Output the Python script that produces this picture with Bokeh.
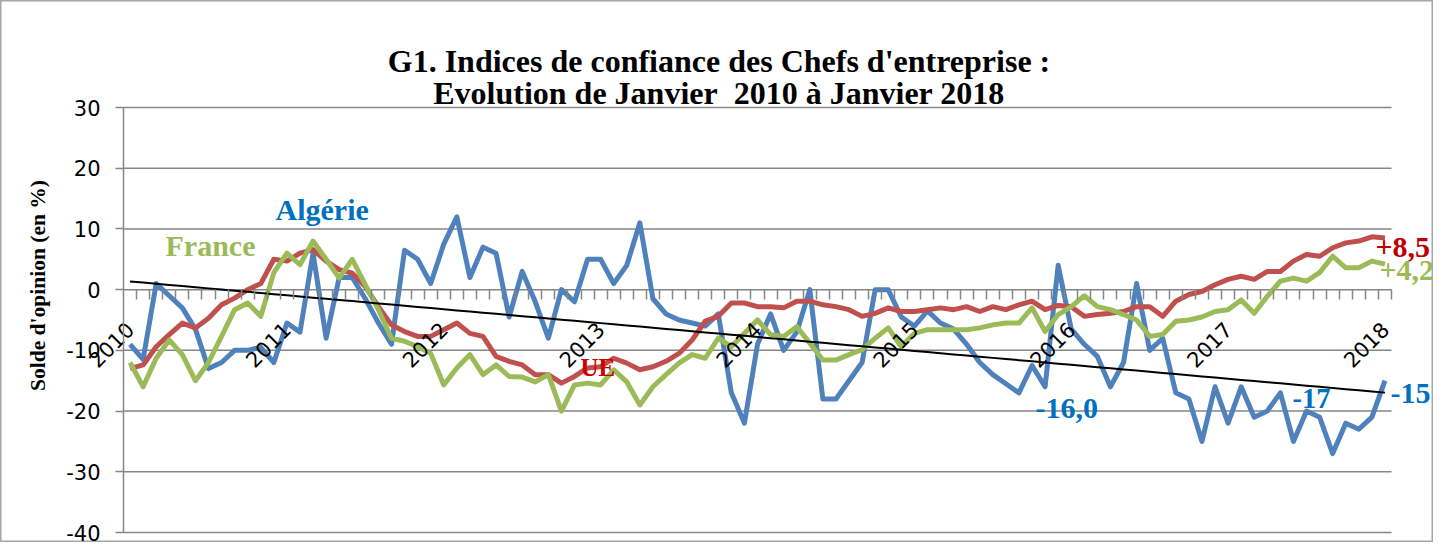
import numpy as np
from bokeh.plotting import figure
from bokeh.models import (Range1d, FixedTicker, Label, LinearAxis,
                          PrintfTickFormatter)
from bokeh.embed import file_html
from bokeh.resources import INLINE

# ---------------- data (monthly, Jan 2010 .. Jan 2018) ----------------
years = ["2010", "2011", "2012", "2013", "2014", "2015", "2016", "2017", "2018"]

algerie = [-9, -11.5, 1, -1, -3, -6.5, -13, -12, -10, -10, -9.5, -12,
           -5.5, -7, 6, -8, 2, 2, -1.5, -5.5, -9, 6.5, 5, 1,
           7.5, 12, 2, 7, 6, -4.5, 3, -2, -8, 0, -2, 5,
           5, 1, 4, 11, -1.5, -4, -5, -5.5, -6, -4, -17, -22,
           -9, -4, -10, -7, 0, -18, -18, -15, -12, 0, 0, -4.5,
           -6, -3.5, -5.5, -6.5, -9, -12, -14, -15.5, -17, -12.5, -16, 4,
           -6.5, -9, -11, -16, -12, 1, -10, -8, -17, -18, -25, -16,
           -22, -16, -21, -20, -17, -25, -20, -21, -27, -22, -23, -21,
           -15]

ue = [-13, -12.4, -9.4, -7.4, -5.5, -6.3, -4.7, -2.5, -1.4, 0, 1, 5,
      4.7, 6, 6.6, 4.7, 3.3, 2.7, 0.5, -2.8, -5.8, -6.9, -7.7, -7.7,
      -6.6, -5.5, -7.2, -7.7, -11, -11.8, -12.4, -14, -14, -15.4, -14.3, -12.9,
      -12.7, -11.3, -12.1, -13.2, -12.7, -11.8, -10.5, -8.3, -5.2, -4.4, -2.2, -2.2,
      -2.8, -2.8, -3, -1.9, -1.9, -2.5, -2.8, -3.3, -4.4, -3.9, -3, -3.6,
      -3.6, -3.3, -3, -3.3, -2.8, -3.6, -2.8, -3.3, -2.5, -1.9, -3.3, -2.6,
      -2.8, -4.4, -4.1, -3.9, -3.6, -2.8, -2.8, -4.4, -1.9, -0.8, -0.3, 0.8,
      1.7, 2.2, 1.7, 3.0, 3.0, 4.7, 5.8, 5.5, 6.9, 7.7, 8.0, 8.7,
      8.5]

france = [-12, -16, -11.3, -8.3, -10.7, -15, -12, -7.7, -3.3, -2.2, -4.4, 2.8,
          6, 4.1, 8, 5, 1.9, 5, 0.8, -3.3, -8, -8.5, -9.4, -10.5,
          -15.7, -12.9, -10.7, -14, -12.4, -14.3, -14.4, -15.2, -14, -20, -15.7, -15.4,
          -15.7, -13.2, -15.2, -19, -16, -14, -12.1, -10.7, -11.3, -8, -9.4, -7.2,
          -5, -7.4, -7.7, -6.1, -8.8, -11.6, -11.6, -10.7, -9.9, -8, -6.3, -9.4,
          -7.2, -6.6, -6.6, -6.6, -6.6, -6.3, -5.8, -5.5, -5.5, -3, -6.9, -4.1,
          -2.8, -1, -2.8, -3.3, -4.1, -5, -7.7, -7.4, -5.2, -5, -4.5, -3.6,
          -3.3, -1.7, -3.9, -1.1, 1.4, 1.9, 1.4, 2.8, 5.5, 3.6, 3.6, 4.7,
          4.2]

yticks = [-40, -30, -20, -10, 0, 10, 20, 30]

n = len(algerie)
idx = np.arange(n)

# linear trend of the Algeria series
slope, intercept = np.polyfit(idx, np.array(algerie, dtype=float), 1)
trend = slope * idx + intercept

# ---------------- geometry ----------------
W, H = 1433, 542                       # figure size (page offset 8px)
AX_L, AX_R, AX_T, AX_B = 123, 1391, 107, 532   # plot area inside the figure (px)
YMIN, YMAX = yticks[0], yticks[-1]
sx = n / (AX_R - AX_L)                 # data units per px
sy = (YMAX - YMIN) / (AX_B - AX_T)
x_range = Range1d(-0.5 - AX_L * sx, -0.5 + (W - AX_L) * sx)
y_range = Range1d(YMIN - (H - AX_B) * sy, YMAX + AX_T * sy)

def X(page_x):
    return -0.5 + (page_x - 8 - AX_L) * sx

def Y(page_y):
    return YMAX - (page_y - 8 - AX_T) * sy

# ---------------- figure ----------------
p = figure(width=W, height=H, output_backend="svg", toolbar_location=None,
           x_range=x_range, y_range=y_range,
           x_axis_location=None, y_axis_location=None, min_border=0)
p.outline_line_color = "#a6a6a6"
p.outline_line_width = 2
p.background_fill_color = "white"
p.border_fill_color = "white"
p.xgrid.visible = False
p.ygrid.visible = False

# horizontal gridlines spanning the category range
p.segment(x0=[-0.5] * len(yticks), y0=yticks, x1=[n - 0.5] * len(yticks), y1=yticks,
          line_color="#868686", line_width=1.5)

# value axis at the left edge of the category range
yax = LinearAxis(fixed_location=-0.5, ticker=FixedTicker(ticks=yticks),
                 bounds=(YMIN, YMAX), formatter=PrintfTickFormatter(format="%d"))
yax.axis_line_color = "#868686"
yax.axis_line_width = 1.5
yax.major_tick_line_color = "#868686"
yax.major_tick_line_width = 1.5
yax.major_tick_out = 8
yax.major_tick_in = 0
yax.minor_tick_line_color = None
yax.major_label_text_font = "DejaVu Sans"
yax.major_label_text_font_size = "21px"
yax.major_label_text_color = "#000000"
yax.major_label_standoff = 15
p.add_layout(yax, "left")

# month tick marks on the zero line
tax = LinearAxis(fixed_location=0, ticker=FixedTicker(ticks=list(idx + 0.5)),
                 bounds=(-0.5, n - 0.5))
tax.axis_line_color = None
tax.major_tick_line_color = "#868686"
tax.major_tick_line_width = 1.5
tax.major_tick_out = 10
tax.major_tick_in = 0
tax.minor_tick_line_color = None
tax.major_label_text_font_size = "0px"
tax.major_label_text_alpha = 0
p.add_layout(tax, "below")

# year labels (rotated) on the zero line
lax = LinearAxis(fixed_location=0, ticker=FixedTicker(ticks=[12 * k for k in range(len(years))]),
                 major_label_overrides={12 * k: y for k, y in enumerate(years)})
lax.axis_line_color = None
lax.major_tick_line_color = None
lax.minor_tick_line_color = None
lax.major_label_orientation = np.pi / 4
lax.major_label_text_font = "DejaVu Sans"
lax.major_label_text_font_size = "21px"
lax.major_label_text_color = "#000000"
lax.major_label_standoff = 30
p.add_layout(lax, "below")

# series
p.line(idx, algerie, line_color="#4F81BD", line_width=5, line_join="round")
p.line(idx, ue, line_color="#C0504D", line_width=5, line_join="round")
p.line(idx, france, line_color="#9BBB59", line_width=5, line_join="round")
p.line(idx, trend, line_color="#000000", line_width=2)

serif = "Liberation Serif"

def lab(px, py, text, color, size="30px", align="left", angle=0.0, baseline="alphabetic"):
    p.add_layout(Label(x=X(px), y=Y(py), text=text, text_color=color, text_font=serif,
                       text_font_style="bold", text_font_size=size,
                       text_align=align, text_baseline=baseline, angle=angle))

# title
lab(726.5, 68, "G1. Indices de confiance des Chefs d'entreprise :", "#000000", "32px", "center")
lab(726.5, 100, "Evolution de Janvier\u00a0 2010 à Janvier 2018", "#000000", "32px", "center")

# value axis title
lab(45, 293, "Solde d'opinion (en %)", "#000000", "21.5px", "center", np.pi / 2, "middle")

# series labels
lab(283, 217, "Algérie", "#0070C0")
lab(173, 253, "France", "#9BBB59")
lab(588, 375, "UE", "#CC0000", "25px")
lab(1043, 416, "-16,0", "#0070C0")
lab(1300, 406, "-17", "#0070C0", "28.5px")
lab(1398, 401, "-15", "#0070C0")
lab(1383, 255, "+8,5", "#C00000")
lab(1387, 278, "+4,2", "#9BBB59")

open("out.html", "w").write(file_html(p, INLINE))
